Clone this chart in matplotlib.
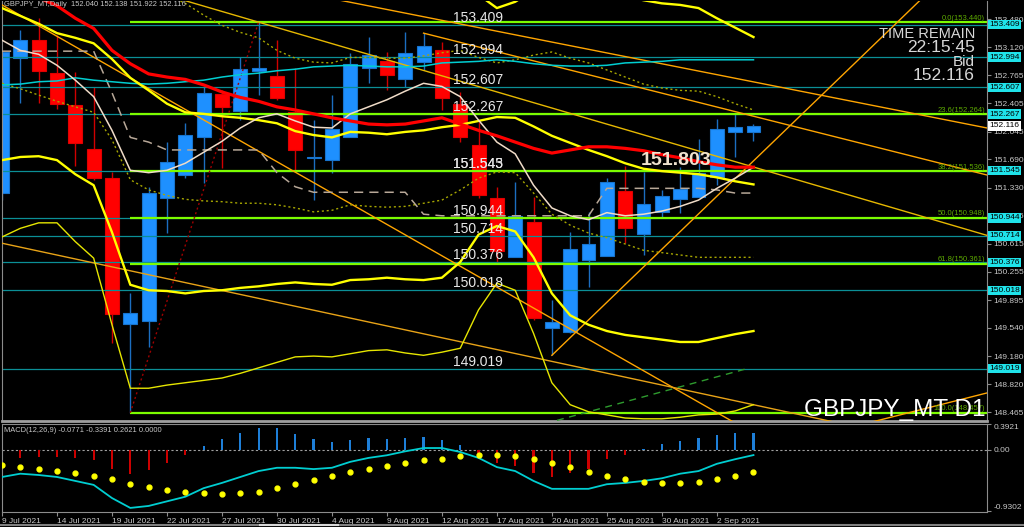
import numpy as np
import matplotlib.pyplot as plt
import matplotlib.transforms as mtransforms
from matplotlib.lines import Line2D

plt.rcParams['font.family'] = ['Liberation Sans', 'DejaVu Sans']

# --- data (GBPJPY daily, 9 Jul - 6 Sep 2021) ---
tick_bars = [0, 3, 6, 9, 12, 15, 18, 21, 24, 27, 30, 33, 36, 39]
tick_dates = ['9 Jul 2021', '14 Jul 2021', '19 Jul 2021', '22 Jul 2021', '27 Jul 2021',
              '30 Jul 2021', '4 Aug 2021', '9 Aug 2021', '12 Aug 2021', '17 Aug 2021',
              '20 Aug 2021', '25 Aug 2021', '30 Aug 2021', '2 Sep 2021']

opens = [151.26, 152.98, 153.21, 152.79, 152.38, 151.82, 151.45, 149.59, 149.63, 151.20,
         151.49, 151.98, 152.52, 152.31, 152.82, 152.75, 152.29, 151.71, 151.68, 151.98,
         152.86, 152.94, 152.72, 152.93, 153.09, 152.40, 151.87, 151.20, 150.44, 150.89,
         149.54, 149.49, 150.41, 150.46, 151.29, 150.74, 151.02, 151.18, 151.21, 151.47,
         152.04, 152.040]
highs = [153.07, 153.34, 153.49, 153.28, 152.80, 152.61, 151.53, 149.99, 151.34, 151.91,
         152.15, 152.61, 152.57, 152.99, 153.44, 153.21, 152.86, 152.19, 152.51, 153.05,
         153.25, 153.06, 153.31, 153.30, 153.19, 152.55, 152.17, 151.34, 151.40, 151.21,
         149.90, 150.76, 151.02, 151.45, 151.61, 151.53, 151.30, 151.59, 151.95, 152.21,
         152.28, 152.138]
lows = [151.17, 152.41, 152.41, 152.33, 151.61, 151.43, 149.35, 148.457, 149.30, 150.75,
        151.45, 151.39, 151.58, 152.19, 152.51, 152.45, 151.55, 151.17, 151.52, 151.97,
        152.66, 152.57, 152.61, 152.83, 152.32, 151.91, 151.20, 150.38, 150.44, 149.64,
        149.19, 149.48, 150.06, 150.46, 150.62, 150.47, 150.95, 151.01, 151.21, 151.36,
        151.72, 151.922]
closes = [153.06, 153.21, 152.82, 152.40, 151.90, 151.45, 149.72, 149.73, 151.26, 151.66,
          152.00, 152.54, 152.36, 152.84, 152.86, 152.47, 151.81, 151.72, 152.08, 152.91,
          153.02, 152.77, 153.05, 153.14, 152.47, 151.98, 151.24, 150.52, 150.97, 149.67,
          149.62, 150.55, 150.61, 151.40, 150.81, 151.12, 151.22, 151.31, 151.52, 152.08,
          152.10, 152.116]

ma_red = [np.nan, 153.95, 153.75, 153.65, 153.49, 153.36, 153.08, 152.91, 152.78, 152.74,
          152.71, 152.64, 152.55, 152.48, 152.43, 152.36, 152.32, 152.27, 152.22, 152.18,
          152.14, 152.13, 152.14, 152.18, 152.22, 152.14, 152.06, 151.99, 151.91, 151.83,
          151.77, 151.81, 151.85, 151.85, 151.83, 151.80, 151.75, 151.71, 151.66, 151.62,
          151.59, 151.59]
band_mid = [153.62, 153.52, 153.42, 153.30, 153.24, 153.17, 152.97, 152.73, 152.57, 152.40,
            152.29, 152.27, 152.24, 152.22, 152.19, 152.15, 152.05, 152.00, 151.97, 152.04,
            152.03, 152.01, 152.04, 152.06, 152.10, 152.13, 152.18, 152.23, 152.22, 152.11,
            151.99, 151.90, 151.81, 151.73, 151.64, 151.57, 151.54, 151.52, 151.50, 151.46,
            151.41, 151.37]
band_low = [151.68, 151.72, 151.73, 151.68, 151.50, 151.36, 150.76, 150.09, 150.02, 150.01,
            149.98, 150.01, 150.02, 150.05, 150.07, 150.10, 150.12, 150.10, 150.09, 150.15,
            150.16, 150.18, 150.16, 150.15, 150.18, 150.38, 150.73, 150.84, 150.77, 150.44,
            149.98, 149.70, 149.58, 149.50, 149.45, 149.42, 149.39, 149.36, 149.36, 149.41,
            149.46, 149.50]
band_up = [np.nan] * 25 + [153.98, 153.79, 153.62, 153.70, 153.85, 153.91, 153.91, 153.88,
                           153.82, 153.77, 153.72, 153.68, 153.66, 153.62, 153.49, 153.37,
                           153.25]
band_low2 = [150.70, 150.81, 150.88, 150.88, 150.64, 150.43, 149.58, 148.77, 148.77, 148.81,
             148.84, 148.87, 148.90, 148.96, 149.03, 149.10, 149.17, 149.18, 149.17, 149.21,
             149.25, 149.26, 149.22, 149.19, 149.23, 149.28, 149.77, 150.11, 150.02, 149.47,
             148.84, 148.56, 148.47, 148.43, 148.39, 148.38, 148.38, 148.40, 148.43, 148.44,
             148.48, 148.56]
ma_cyan = [152.64, 152.65, 152.68, 152.69, 152.73, 152.70, 152.68, 152.66, 152.65, 152.66,
           152.68, 152.70, 152.74, 152.77, 152.79, 152.82, 152.84, 152.87, 152.88, 152.89,
           152.88, 152.87, 152.87, 152.88, 152.92, 152.93, 152.94, 152.96, 152.94, 152.91,
           152.89, 152.88, 152.88, 152.89, 152.92, 152.93, 152.94, 152.96, 152.96, 152.96,
           152.96, 152.96]
ma_beige = [153.21, 153.08, 153.03, 152.89, 152.70, 152.49, 152.06, 151.55, 151.52, 151.55,
            151.64, 151.78, 151.92, 152.09, 152.22, 152.27, 152.18, 152.10, 152.09, 152.27,
            152.36, 152.45, 152.56, 152.66, 152.62, 152.49, 152.19, 151.91, 151.76, 151.36,
            151.07, 150.97, 150.92, 151.01, 150.97, 150.99, 151.03, 151.09, 151.17, 151.32,
            151.45, 151.59]
kijun = [153.07] * 6 + [152.54, 151.97, 151.91] + [151.81] * 6 + [151.52, 151.34] + \
        [151.27] * 6 + [150.99] + [150.97] * 9 + [151.32] * 6 + [151.30, 151.26, 151.26]
olive_low = [152.66, 152.59, 152.51, 152.43, 152.36, 152.29, 151.94, 151.43, 151.30, 151.23,
             151.18, 151.16, 151.15, 151.13, 151.13, 151.11, 151.07, 151.02, 151.04, 151.11,
             151.09, 151.08, 151.09, 151.13, 151.17, 151.30, 151.45, 151.53, 151.52, 151.26,
             150.99, 150.85, 150.75, 150.69, 150.61, 150.53, 150.50, 150.47, 150.44, 150.44,
             150.44, 150.44]
olive_up = [np.nan] * 9 + [153.79, 153.68, 153.53, 153.40, 153.31, 153.24, 153.08, 152.98,
                           152.93, 152.92, 152.99, 152.99, 152.98, 152.98, 153.01, 153.05,
                           153.08, 152.99, 152.92, 152.96, 153.02, 153.06, 152.98, 152.92,
                           152.83, 152.74, 152.65, 152.60, 152.57, 152.56, 152.49, 152.40,
                           152.32]

macd_hist = [-0.20, -0.12, -0.11, -0.11, -0.12, -0.15, -0.29, -0.36, -0.30, -0.20,
             -0.08, 0.06, 0.17, 0.26, 0.33, 0.33, 0.24, 0.17, 0.12, 0.15,
             0.18, 0.17, 0.18, 0.20, 0.15, 0.08, -0.05, -0.20, -0.24, -0.35,
             -0.41, -0.35, -0.29, -0.14, -0.08, 0.02, 0.09, 0.14, 0.18, 0.23,
             0.26, 0.2621]
macd_main = [-0.41, -0.36, -0.38, -0.41, -0.47, -0.53, -0.73, -0.88, -0.85, -0.78,
             -0.71, -0.58, -0.50, -0.41, -0.32, -0.27, -0.27, -0.29, -0.27, -0.18,
             -0.12, -0.08, -0.02, 0.03, 0.03, -0.03, -0.12, -0.26, -0.32, -0.47,
             -0.59, -0.59, -0.59, -0.52, -0.50, -0.47, -0.43, -0.36, -0.32, -0.21,
             -0.14, -0.0771]
macd_signal = [-0.23, -0.26, -0.29, -0.32, -0.35, -0.40, -0.44, -0.52, -0.56, -0.61,
               -0.64, -0.65, -0.67, -0.65, -0.64, -0.58, -0.52, -0.46, -0.40, -0.33,
               -0.29, -0.24, -0.20, -0.15, -0.14, -0.09, -0.08, -0.08, -0.09, -0.14,
               -0.20, -0.26, -0.33, -0.40, -0.44, -0.49, -0.50, -0.50, -0.49, -0.44,
               -0.40, -0.3391]

level_values = [153.409, 152.994, 152.607, 152.267, 151.545, 150.944, 150.714, 150.376,
                150.018, 149.019]
level_texts = ['153.409', '152.994', '152.607', '152.267', '151.545', '151.543', '150.944',
               '150.714', '150.376', '150.018', '149.019']
fib_values = [153.440, 152.264, 151.536, 150.948, 150.361, 148.457]
fib_names = ['0.0', '23.6', '38.2', '50.0', '61.8', '100.0']
price_ticks = [153.480, 153.120, 152.765, 152.405, 152.045, 151.690, 151.330, 150.975,
               150.615, 150.255, 149.895, 149.540, 149.180, 148.820, 148.465]
bid = 152.116
marked_price = '151.803'

# trend lines: (bar, price) anchor pairs
trend_full = [((0, 153.66), (39, 148.46), '#FFA500'),
              ((0, 150.62), (40, 148.61), '#E8A317'),
              ((18.44, 153.72), (53.74, 152.09), '#FFA500'),
              ((14, 153.44), (53.74, 150.72), '#E6B800'),
              ((47.9, 148.365), (53.74, 148.71), '#FFA500')]
trend_rays = [((23, 153.30), (53.74, 151.49), '#FFA500'),
              ((30, 149.19), (41, 151.67), '#FFA500')]
fib_link = ((7, 148.457), (14, 153.44))
green_dash = ((30.28, 148.36), (40.8, 149.03))

# --- figure ---
BG = 'black'
GRID = '#8C8C8C'
TXT = '#C8C8C8'
XMAX = 53.74
fig = plt.figure(figsize=(10.24, 5.27), dpi=100, facecolor=BG)
ax = fig.add_axes([2 / 1024, 106 / 527, 985 / 1024, 420 / 527], facecolor=BG)
ax2 = fig.add_axes([2 / 1024, 15 / 527, 985 / 1024, 88 / 527], facecolor=BG)

x = np.arange(len(closes))
o, h, l, c = map(np.array, (opens, highs, lows, closes))
up = c >= o
col = np.where(up, '#1E90FF', '#FF0000')
edge = np.where(up, '#1874CD', '#E00000')
ax.vlines(x, l, h, colors=np.where(up, '#1C6EC0', '#D00000'), lw=1, zorder=1)
ax.bar(x, np.maximum(np.abs(c - o), 0.012), bottom=np.minimum(o, c), width=0.76,
       color=col, edgecolor=edge, linewidth=0.8, zorder=1.2)

# horizontal levels
ax.hlines(level_values, 0, XMAX, colors='#0B8F96', lw=0.9, zorder=2)
ax.hlines(fib_values, 7, XMAX, colors='#7CFC00', lw=1.6, zorder=2.1)
for name, v in zip(fib_names, fib_values):
    ax.text(53.62, v + 0.005, f'{name}({v:.3f})', ha='right', va='bottom', fontsize=5.5,
            color='#5DAA00', zorder=6)
level_text_values = [float(t) for t in level_texts]
for t, v in zip(level_texts, level_text_values):
    ax.text(24.6, v, t, ha='left', va='bottom', fontsize=10, color='#E8E8E8', zorder=7)


def extend(p1, p2, x0, x1):
    k = (p2[1] - p1[1]) / (p2[0] - p1[0])
    return [x0, x1], [p1[1] + k * (x0 - p1[0]), p1[1] + k * (x1 - p1[0])]


for p1, p2, cl in trend_full:
    xs, ys = extend(p1, p2, -1, XMAX)
    ax.plot(xs, ys, color=cl, lw=1.0, zorder=3)
for p1, p2, cl in trend_rays:
    xs, ys = extend(p1, p2, p1[0], XMAX)
    ax.plot(xs, ys, color=cl, lw=1.0, zorder=3)
ax.plot(*zip(*fib_link), color='#A00000', lw=1, ls=(0, (1.5, 2)), zorder=3)
ax.plot(*zip(*green_dash), color='#2E9B2E', lw=1, ls=(0, (5, 4)), zorder=3)

# indicators
ax.plot(x, olive_low, color='#A6A600', lw=1, ls=(0, (1.5, 2)), zorder=3.2)
ax.plot(x, olive_up, color='#A6A600', lw=1, ls=(0, (1.5, 2)), zorder=3.2)
ax.plot(x, kijun, color='#B8A898', lw=1.1, ls=(0, (6, 4)), zorder=3.3)
ax.plot(x, ma_cyan, color='#00CED1', lw=1.1, zorder=3.4)
ax.plot(x, band_low2, color='#E6E600', lw=1.0, zorder=3.5)
ax.plot(x, band_up, color='#FFFF00', lw=1.7, zorder=3.6)
ax.plot(x, band_mid, color='#FFFF00', lw=1.7, zorder=3.6)
ax.plot(x, band_low, color='#FFFF00', lw=1.7, zorder=3.6)
ax.plot(x, ma_beige, color='#F0DCC8', lw=1.1, zorder=3.7)
ax.plot(x, ma_red, color='#FF0000', lw=2.3, zorder=3.8)

ax.text(36.77, 151.68, marked_price, ha='center', va='center', fontsize=14,
        fontweight='bold', color='#EFE2CE', zorder=8)

ax.set_xlim(0, XMAX)
ax.set_ylim(148.352, 153.71)
ax.set_xticks([])
ax.yaxis.tick_right()
ax.set_yticks(price_ticks)
ax.set_yticklabels([f'{t:.3f}' for t in price_ticks])
ax.tick_params(axis='y', colors=GRID, labelcolor=TXT, labelsize=6, length=3, pad=1.5)
for s in ('left', 'right'):
    ax.spines[s].set_color(GRID)
ax.spines['top'].set_visible(False)
ax.spines['bottom'].set_color('#A0A0A0')
ax.spines['bottom'].set_linewidth(2)

# price boxes on the right scale
trans = mtransforms.blended_transform_factory(ax.transAxes, ax.transData)
for v in level_values:
    ax.text(1.0025, v, f'{v:.3f}', transform=trans, ha='left', va='center', fontsize=6,
            color='black', clip_on=False, zorder=10,
            bbox=dict(boxstyle='square,pad=0.15', fc='#1FE3EA', ec='none'))
ax.text(1.0025, bid, f'{bid:.3f}', transform=trans, ha='left', va='center', fontsize=6,
        color='black', clip_on=False, zorder=10,
        bbox=dict(boxstyle='square,pad=0.15', fc='white', ec='none'))

# MACD panel
ax2.bar(x, macd_hist, width=0.12, color=np.where(np.array(macd_hist) >= 0, '#1E7FD8', '#CC0000'),
        zorder=2)
ax2.axhline(0, color='#A0A0A0', lw=0.8, ls=(0, (2, 2)), zorder=1)
ax2.plot(x, macd_main, color='#00CED1', lw=1.3, zorder=3)
ax2.plot(x, macd_signal, 'o', color='#FFFF00', ms=3.5, zorder=4)
ax2.set_xlim(0, XMAX)
ax2.set_ylim(-0.942, 0.395)
ax2.yaxis.tick_right()
ax2.set_yticks([0.3921, 0.0, -0.9302])
ax2.set_yticklabels(['0.3921', '0.00', '-0.9302'])
ax2.tick_params(axis='y', colors=GRID, labelcolor=TXT, labelsize=6, length=3, pad=1.5)
yl = ax2.get_yticklabels()
yl[0].set_va('top')
yl[2].set_va('bottom')
ax2.set_xticks(tick_bars)
ax2.set_xticklabels(tick_dates)
ax2.tick_params(axis='x', colors=GRID, labelcolor=TXT, labelsize=6, length=3, pad=1)
for lab in ax2.get_xticklabels():
    lab.set_ha('left')
for s in ax2.spines.values():
    s.set_color(GRID)

# overlay texts
fig.text(4 / 1024, 1 - 5 / 527, 'GBPJPY_MT,Daily  152.040 152.138 151.922 152.116',
         va='center', fontsize=5.4, color=TXT)
fig.text(4 / 1024, 1 - 430 / 527, 'MACD(12,26,9) -0.0771 -0.3391 0.2621 0.0000',
         va='center', fontsize=5.4, color=TXT)
fig.text(975 / 1024, 1 - 34 / 527, 'TIME REMAIN', ha='right', va='center', fontsize=10.5,
         color='#D8D8D8')
fig.text(975 / 1024, 1 - 47 / 527, '22:15:45', ha='right', va='center', fontsize=12.5,
         color='#D8D8D8')
fig.text(975 / 1024, 1 - 62 / 527, 'Bid', ha='right', va='center', fontsize=11,
         color='#D8D8D8')
fig.text(975 / 1024, 1 - 75 / 527, '152.116', ha='right', va='center', fontsize=12.5,
         color='#D8D8D8')
fig.text(985 / 1024, 1 - 410 / 527, 'GBPJPY_MT D1', ha='right', va='center', fontsize=17.5,
         color='white')

fig.add_artist(Line2D([0, 1], [2 / 527, 2 / 527], color='#808080', lw=1.5,
                      transform=fig.transFigure))
fig.add_artist(Line2D([260 / 1024, 338 / 1024], [2 / 527, 2 / 527], color='#D8D8D8',
                      lw=1.5, transform=fig.transFigure))

fig.savefig('out.png', dpi=100, facecolor=BG)
